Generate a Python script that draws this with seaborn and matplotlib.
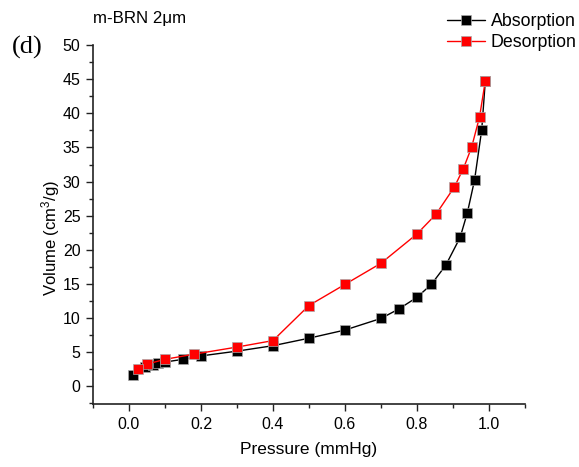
import numpy as np
import pandas as pd
import matplotlib
matplotlib.use("Agg")
import matplotlib.pyplot as plt
import seaborn as sns
from matplotlib.ticker import MultipleLocator

# Adsorption branch (relative pressure, volume)
abs_p = [0.01, 0.045, 0.068, 0.08, 0.10, 0.15, 0.20, 0.30, 0.40, 0.50, 0.60,
         0.70, 0.75, 0.80, 0.84, 0.88, 0.92, 0.94, 0.96, 0.98, 0.99]
abs_v = [1.6, 2.7, 3.1, 3.3, 3.5, 3.9, 4.4, 5.1, 5.9, 7.0, 8.2,
         9.9, 11.3, 13.0, 14.9, 17.7, 21.8, 25.4, 30.2, 37.6, 44.8]

# Desorption branch
des_p = [0.99, 0.974, 0.952, 0.929, 0.904, 0.853, 0.80, 0.70, 0.60, 0.50,
         0.40, 0.30, 0.18, 0.10, 0.05, 0.025]
des_v = [44.8, 39.5, 35.05, 31.9, 29.2, 25.2, 22.3, 18.0, 14.9, 11.8,
         6.65, 5.7, 4.65, 3.9, 3.2, 2.5]

series_names = ["Absorption", "Desorption"]
series_colors = ["black", "red"]

df = pd.concat([
    pd.DataFrame({"Pressure": abs_p, "Volume": abs_v, "Series": series_names[0]}),
    pd.DataFrame({"Pressure": des_p, "Volume": des_v, "Series": series_names[1]}),
], ignore_index=True)

sns.set_style("ticks")
plt.rcParams["font.family"] = ["Liberation Sans", "DejaVu Sans"]
plt.rcParams["mathtext.fontset"] = "custom"
plt.rcParams["mathtext.rm"] = "Liberation Sans"
plt.rcParams["mathtext.it"] = "Liberation Sans:italic"
for key in ("text.color", "axes.labelcolor", "xtick.color", "ytick.color"):
    plt.rcParams[key] = "black"

fig = plt.figure(figsize=(5.79, 4.67), dpi=100)
ax = fig.add_axes([0.1606, 0.1343, 0.746, 0.7687])

sns.lineplot(data=df, x="Pressure", y="Volume", hue="Series", sort=False,
             palette=dict(zip(series_names, series_colors)),
             marker="s", markersize=6.5, markeredgecolor="#aaaaaa",
             markeredgewidth=0.5, linewidth=1.0, estimator=None, ax=ax,
             legend=True)

ax.set_xlim(-0.1, 1.1)
ax.set_ylim(-2.7, 50)
ax.xaxis.set_minor_locator(MultipleLocator(0.1))
ax.yaxis.set_minor_locator(MultipleLocator(2.5))
ax.set_xticks([0.0, 0.2, 0.4, 0.6, 0.8, 1.0])
ax.set_xticklabels(["0.0", "0.2", "0.4", "0.6", "0.8", "1.0"])
ax.set_yticks(list(range(0, 51, 5)))

for side in ("top", "right"):
    ax.spines[side].set_visible(False)
for side in ("left", "bottom"):
    ax.spines[side].set_color("#222222")
    ax.spines[side].set_linewidth(1.2)

ax.tick_params(axis="both", which="major", direction="out", length=5,
               width=1.0, labelsize=11.5, color="#222222", pad=4)
ax.tick_params(axis="both", which="minor", direction="out", length=3,
               width=1.0, color="#222222")

ax.set_xlabel("Pressure (mmHg)", fontsize=12.5, labelpad=7)
ax.set_ylabel("Volume (cm$^3$/g)", fontsize=12)
ax.yaxis.set_label_coords(-0.072, 0.463)

handles, labels = ax.get_legend_handles_labels()
ax.legend(handles, labels, loc="upper right", bbox_to_anchor=(1.0155, 0.996),
          bbox_transform=fig.transFigure, frameon=False, fontsize=12.8,
          handlelength=2.1, handletextpad=0.33, labelspacing=0.22,
          borderaxespad=0.25)

fig.text(0.161, 0.961, "m-BRN 2\u03bcm", fontsize=12.2, ha="left", va="center")
fig.text(0.021, 0.898, "(d)", fontsize=19, ha="left", va="center",
         family=["Liberation Serif", "DejaVu Serif"])

fig.savefig("out.png", dpi=100)
